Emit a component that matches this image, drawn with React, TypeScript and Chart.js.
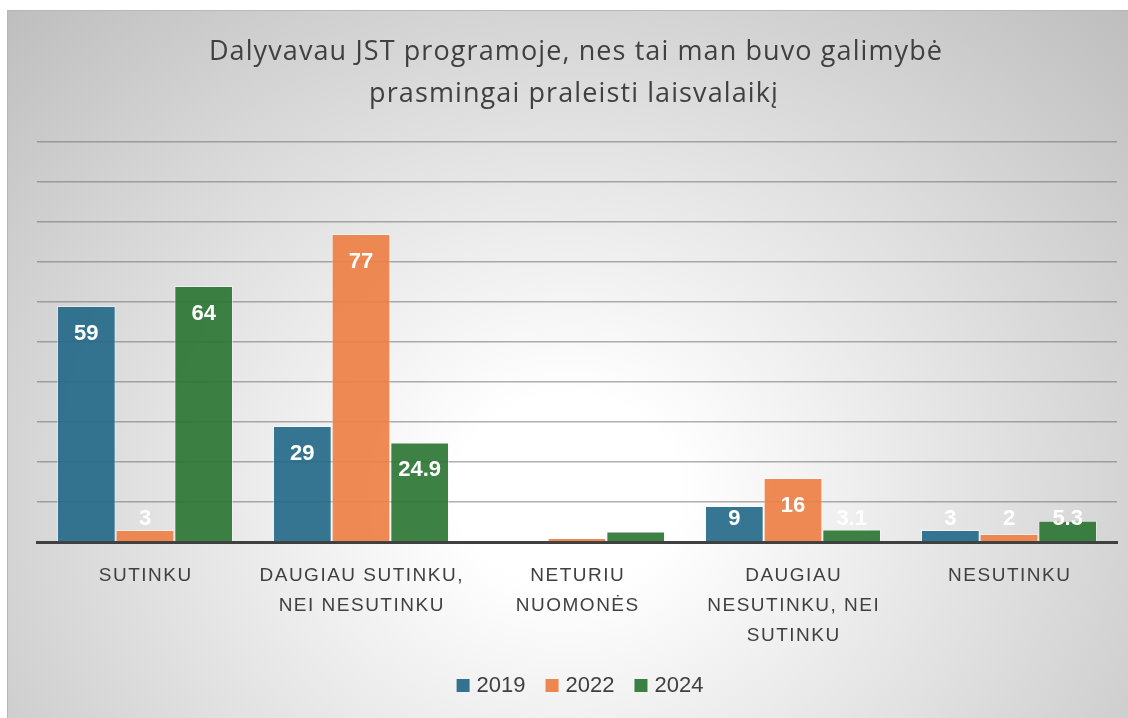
import React, { useEffect, useRef } from "react";
import { Chart, registerables } from "chart.js";

Chart.register(...registerables);

const titleLines = [
  "Dalyvavau JST programoje, nes tai man buvo galimybė",
  "prasmingai praleisti laisvalaikį",
];
const categories = [
  ["SUTINKU"],
  ["DAUGIAU SUTINKU,", "NEI NESUTINKU"],
  ["NETURIU", "NUOMONĖS"],
  ["DAUGIAU", "NESUTINKU, NEI", "SUTINKU"],
  ["NESUTINKU"],
];
const seriesNames = ["2019", "2022", "2024"];
const values2019 = [59, 29, 0, 9, 3];
const values2022 = [3, 77, 1, 16, 2];
const values2024 = [64, 24.9, 2.6, 3.1, 5.3];
const seriesColors = ["rgba(32,103,134,0.9)", "rgba(237,125,66,0.9)", "rgba(40,116,48,0.9)"];
const legendColors = ["#33738f", "#ed8752", "#3a8043"];
const yMin = 0;
const yMax = 100;
const yStep = 10;

const TEXT = "#404040";
const SANS = "'Liberation Sans', Arial, sans-serif";

const overlay = {
  id: "overlay",
  afterDatasetsDraw(chart: any) {
    const ctx = chart.ctx;
    const base = chart.scales.y.getPixelForValue(0);
    ctx.save();
    ctx.font = `bold 22px ${SANS}`;
    ctx.fillStyle = "#ffffff";
    ctx.textAlign = "center";
    ctx.textBaseline = "alphabetic";
    chart.data.datasets.forEach((ds: any, di: number) => {
      const meta = chart.getDatasetMeta(di);
      meta.data.forEach((bar: any, i: number) => {
        const v = ds.data[i];
        if (!v) return;
        const y = Math.min(bar.y + 34, base - 17);
        ctx.fillText(String(v), bar.x, y);
      });
    });
    ctx.restore();
  },
  afterDraw(chart: any) {
    const ctx = chart.ctx;
    ctx.save();
    // title
    ctx.fillStyle = TEXT;
    ctx.textAlign = "center";
    ctx.textBaseline = "alphabetic";
    ctx.font = `27px 'Open Sans', ${SANS}`;
    (ctx as any).letterSpacing = "1.1px";
    const cx = 569;
    ctx.fillText(titleLines[0], cx, 50);
    ctx.fillText(titleLines[1], cx - 2, 92);
    // category labels
    const xs = chart.scales.x;
    const base = chart.scales.y.getPixelForValue(0);
    ctx.font = `19px ${SANS}`;
    (ctx as any).letterSpacing = "1.5px";
    (chart.data.labels as string[][]).forEach((lines, i) => {
      const x = xs.getPixelForTick(i);
      lines.forEach((ln, k) => {
        ctx.fillText(ln, x + 0.75, base + 39 + k * 30);
      });
    });
    (ctx as any).letterSpacing = "0px";
    // legend
    ctx.font = `22px ${SANS}`;
    ctx.textAlign = "left";
    const box = 13;
    const gap = 7;
    const itemGap = 20;
    const widths = chart.data.datasets.map((d: any) => ctx.measureText(d.label).width);
    let total = 0;
    widths.forEach((w: number, i: number) => {
      total += box + gap + w + (i < widths.length - 1 ? itemGap : 0);
    });
    let x = 573 - total / 2;
    const ly = 682;
    chart.data.datasets.forEach((d: any, i: number) => {
      ctx.fillStyle = legendColors[i];
      ctx.fillRect(x, ly - 13, box, box);
      ctx.fillStyle = TEXT;
      ctx.fillText(d.label, x + box + gap, ly);
      x += box + gap + widths[i] + itemGap;
    });
    ctx.restore();
  },
};

export default function App() {
  const ref = useRef<HTMLCanvasElement | null>(null);
  useEffect(() => {
    if (!ref.current) return;
    const chart = new Chart(ref.current, {
      type: "bar",
      data: {
        labels: categories as any,
        datasets: [values2019, values2022, values2024].map((vals, i) => ({
          label: seriesNames[i],
          data: vals,
          backgroundColor: seriesColors[i],
          borderColor: "rgba(255,255,255,0.45)",
          borderWidth: 1,
          barPercentage: 1,
          categoryPercentage: 0.815,
        })),
      },
      options: {
        responsive: false,
        animation: false,
        layout: { padding: { left: 30, right: 11, top: 132, bottom: 176 } },
        plugins: {
          legend: { display: false },
          title: { display: false },
          tooltip: { enabled: false },
        },
        scales: {
          x: {
            grid: { display: false, drawTicks: false },
            ticks: { display: false },
            border: { display: true, color: "#404040", width: 3 },
            afterFit: (s: any) => { s.height = 0; },
          },
          y: {
            min: yMin,
            max: yMax,
            ticks: { display: false, stepSize: yStep },
            grid: { color: "rgba(110,110,110,0.55)", lineWidth: 1.5, drawTicks: false },
            border: { display: false },
            afterFit: (s: any) => { s.width = 0; },
          },
        },
      },
      plugins: [overlay],
    });
    return () => chart.destroy();
  }, []);
  return (
    <div
      style={{
        position: "absolute",
        left: 7,
        top: 10,
        width: 1121,
        height: 708,
        boxSizing: "border-box",
        borderTop: "1px solid #b8b8b8",
        borderLeft: "1px solid #b8b8b8",
        background:
          "radial-gradient(ellipse farthest-corner at 50% 68%, #ffffff 0%, #ffffff 14%, #bebebe 100%)",
        overflow: "hidden",
      }}
    >
      <canvas ref={ref} width={1121} height={708} style={{ position: "absolute", left: -1, top: -1 }} />
    </div>
  );
}
